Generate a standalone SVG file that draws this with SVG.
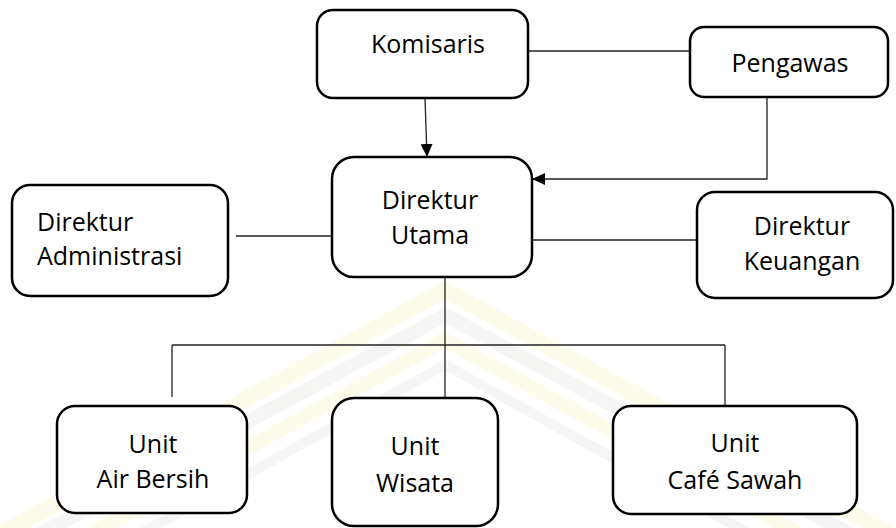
<svg xmlns="http://www.w3.org/2000/svg" width="896" height="528" viewBox="0 0 896 528">
  <style>
    .box { fill: #ffffff; stroke: #000000; stroke-width: 2.5; }
    .lbl { font-family: "Open Sans", "Noto Sans", "DejaVu Sans", sans-serif; font-size: 25px; fill: #000000; text-anchor: middle; }
    .lbl-left { text-anchor: start; }
    .conn { fill: none; stroke: #222222; stroke-width: 1.3; }
    .wm-y { fill: none; stroke: #fdfbea; stroke-linejoin: miter; }
    .wm-g { fill: none; stroke: #f5f5f3; stroke-linejoin: miter; }
  </style>
  <defs>
    <marker id="arrow" markerUnits="userSpaceOnUse" markerWidth="14" markerHeight="12" refX="13" refY="6" orient="auto">
      <path d="M0,0 L13,6 L0,12 z" fill="#000000"/>
    </marker>
  </defs>
  <rect x="0" y="0" width="896" height="528" fill="#ffffff"/>

  <g id="watermark">
    <polyline class="wm-y" stroke-width="16" points="-20,545 445,290 910,545"/>
    <polyline class="wm-g" stroke-width="14" points="20,545 445,315 870,545"/>
    <polyline class="wm-y" stroke-width="14" points="70,545 445,340 820,545"/>
    <polyline class="wm-g" stroke-width="10" points="120,545 445,365 770,545"/>
  </g>

  <g id="connectors">
    <line class="conn" x1="425" y1="98" x2="427" y2="157" marker-end="url(#arrow)"/>
    <line class="conn" x1="528" y1="51" x2="690" y2="51"/>
    <polyline class="conn" points="767,97 767,179 532,179" marker-end="url(#arrow)"/>
    <line class="conn" x1="236" y1="236" x2="332" y2="236"/>
    <line class="conn" x1="527" y1="240" x2="697" y2="240"/>
    <line class="conn" x1="445" y1="277" x2="445" y2="398"/>
    <line class="conn" x1="172" y1="345" x2="725" y2="345"/>
    <line class="conn" x1="172" y1="345" x2="172" y2="397"/>
    <line class="conn" x1="725" y1="345" x2="725" y2="406"/>
  </g>

  <g id="komisaris">
    <rect class="box" x="317" y="10" width="211" height="88" rx="16"/>
    <text class="lbl" x="428" y="53">Komisaris</text>
  </g>
  <g id="pengawas">
    <rect class="box" x="690" y="27" width="198" height="70" rx="14"/>
    <text class="lbl" x="790" y="72">Pengawas</text>
  </g>
  <g id="direktur-utama">
    <rect class="box" x="332" y="157" width="200" height="120" rx="22"/>
    <text class="lbl" x="430" y="209">Direktur</text>
    <text class="lbl" x="430" y="244">Utama</text>
  </g>
  <g id="direktur-administrasi">
    <rect class="box" x="12" y="185" width="216" height="111" rx="18"/>
    <text class="lbl lbl-left" x="37" y="231">Direktur</text>
    <text class="lbl lbl-left" x="37" y="265">Administrasi</text>
  </g>
  <g id="direktur-keuangan">
    <rect class="box" x="697" y="192" width="196" height="106" rx="18"/>
    <text class="lbl" x="802" y="235">Direktur</text>
    <text class="lbl" x="802" y="270">Keuangan</text>
  </g>
  <g id="unit-air-bersih">
    <rect class="box" x="57" y="406" width="190" height="107" rx="18"/>
    <text class="lbl" x="153" y="453">Unit</text>
    <text class="lbl" x="153" y="488">Air Bersih</text>
  </g>
  <g id="unit-wisata">
    <rect class="box" x="332" y="398" width="166" height="128" rx="22"/>
    <text class="lbl" x="415" y="455">Unit</text>
    <text class="lbl" x="415" y="492">Wisata</text>
  </g>
  <g id="unit-cafe-sawah">
    <rect class="box" x="613" y="406" width="244" height="108" rx="18"/>
    <text class="lbl" x="735" y="452">Unit</text>
    <text class="lbl" x="735" y="489">Café Sawah</text>
  </g>
</svg>
